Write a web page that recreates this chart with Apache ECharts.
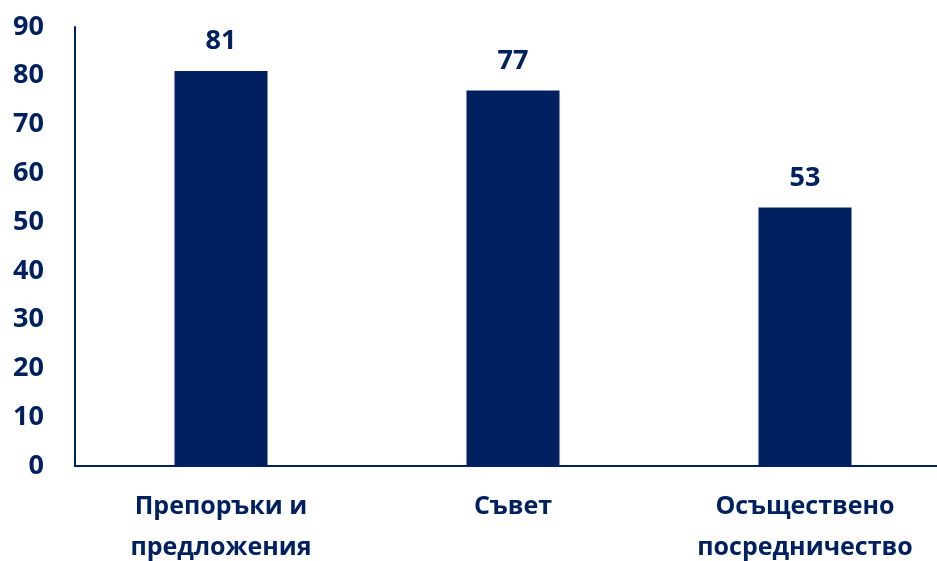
<!DOCTYPE html>
<html><head><meta charset="utf-8">
<script src="https://cdn.jsdelivr.net/npm/echarts@6/dist/echarts.min.js"></script>
<style>html,body{margin:0;padding:0;background:#fff}#c{width:937px;height:561px}</style>
</head><body><div id="c"></div>
<script>
const categories = ['Препоръки и\nпредложения', 'Съвет', 'Осъществено\nпосредничество'];
const values = [81, 77, 53];
const yTicks = [0, 10, 20, 30, 40, 50, 60, 70, 80, 90];

const color = '#002060';
const font = '"Open Sans", sans-serif';
const chart = echarts.init(document.getElementById('c'));
chart.setOption({
  animation: false,
  grid: { left: 75, right: -14, top: 27, bottom: 95, containLabel: false, outerBoundsMode: 'none' },
  xAxis: {
    type: 'category', data: categories,
    axisLine: { show: true, lineStyle: { color: color, width: 2 } },
    axisTick: { show: false },
    axisLabel: { color: color, fontFamily: font, fontWeight: 'bold', fontSize: 25, lineHeight: 41, margin: 20, interval: 0 }
  },
  yAxis: {
    type: 'value', min: yTicks[0], max: yTicks[yTicks.length - 1], interval: 10,
    axisLine: { show: true, lineStyle: { color: color, width: 2 } },
    axisTick: { show: false },
    splitLine: { show: false },
    axisLabel: { color: color, fontFamily: font, fontWeight: 'bold', fontSize: 27, margin: 31 }
  },
  series: [{
    type: 'bar', data: values, barWidth: 93,
    itemStyle: { color: color },
    label: { show: true, position: 'top', distance: 16, color: color, fontFamily: font, fontWeight: 'bold', fontSize: 27 }
  }]
});
</script></body></html>
